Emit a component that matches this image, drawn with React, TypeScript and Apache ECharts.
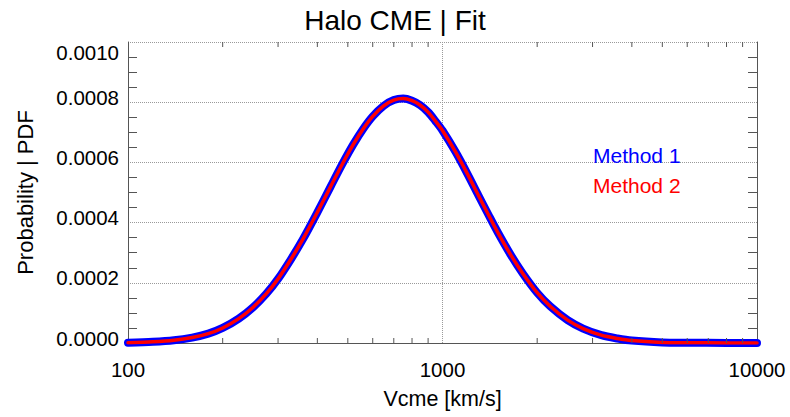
import React, { useEffect, useRef } from "react";
import * as echarts from "echarts";

const titleText = "Halo CME | Fit";
const xName = "Vcme [km/s]";
const yName = "Probability | PDF";
const seriesNames = ["Method 1", "Method 2"];
const seriesColors = ["#0000ff", "#ff0000"];

const vcme = [100, 120, 140, 160, 180, 200, 225, 250, 275, 300, 330, 360, 400, 440, 480, 520, 560, 600, 650, 700, 750, 800, 850, 900, 950, 1000, 1100, 1200, 1300, 1400, 1500, 1650, 1800, 2000, 2200, 2500, 2800, 3200, 3600, 4000, 5000, 6000, 8000, 10000];

const method1 = [0.000001, 0.000004, 0.000009, 0.000018, 0.000031, 0.00005, 0.000081, 0.000119, 0.000163, 0.000213, 0.000279, 0.000345, 0.000434, 0.000518, 0.000594, 0.000659, 0.000712, 0.000753, 0.000788, 0.000807, 0.000812, 0.000805, 0.00079, 0.000767, 0.000737, 0.000706, 0.000635, 0.000562, 0.000491, 0.000426, 0.000367, 0.000292, 0.000231, 0.000167, 0.000122, 0.000076, 0.000048, 0.000026, 0.000015, 0.000008, 0.000002, 0.000001, 0.0000002, 0.0000001];

const method2 = [0.000001, 0.000004, 0.000009, 0.000018, 0.000031, 0.00005, 0.000081, 0.000119, 0.000163, 0.000213, 0.000279, 0.000345, 0.000434, 0.000518, 0.000594, 0.000659, 0.000712, 0.000753, 0.000788, 0.000807, 0.000812, 0.000805, 0.00079, 0.000767, 0.000737, 0.000706, 0.000635, 0.000562, 0.000491, 0.000426, 0.000367, 0.000292, 0.000231, 0.000167, 0.000122, 0.000076, 0.000048, 0.000026, 0.000015, 0.000008, 0.000002, 0.000001, 0.0000002, 0.0000001];

const xMinorTicks = [200, 300, 400, 500, 600, 700, 800, 900, 2000, 3000, 4000, 5000, 6000, 7000, 8000, 9000];
const xMin = 100;
const xMax = 10000;
const yMin = 0;
const yMax = 0.001;
const yInterval = 0.0002;

const FONT = "'Liberation Sans', Arial, Helvetica, sans-serif";
const FRAME = "#555555";
const GRID = "#9a9a9a";
const X_TICK_LEN = 5;

export default function App() {
  const ref = useRef<HTMLDivElement>(null);

  useEffect(() => {
    document.body.style.margin = "0";
    const chart = echarts.init(ref.current!, null, { renderer: "svg" });
    const pairs = (ys: number[]) => vcme.map((x, i) => [x, ys[i]]);

    const frameLine = { show: true, lineStyle: { color: FRAME, width: 1 } };

    chart.setOption({
      animation: false,
      backgroundColor: "#ffffff",
      textStyle: { fontFamily: FONT },
      title: {
        text: titleText,
        left: "center",
        top: 1,
        textStyle: { fontFamily: FONT, fontSize: 28, fontWeight: "normal", color: "#000" },
      },
      legend: {
        orient: "vertical",
        left: 583,
        top: 140,
        itemWidth: 0,
        itemHeight: 0,
        itemGap: 9,
        selectedMode: false,
        textStyle: { fontFamily: FONT, fontSize: 21 },
        data: [
          { name: seriesNames[0], icon: "rect", itemStyle: { opacity: 0 }, textStyle: { color: seriesColors[0] } },
          { name: seriesNames[1], icon: "rect", itemStyle: { opacity: 0 }, textStyle: { color: seriesColors[1] } },
        ],
      },
      grid: { left: 128, right: 33, top: 42, bottom: 74, containLabel: false },
      xAxis: [
        {
          type: "log",
          logBase: 10,
          min: xMin,
          max: xMax,
          position: "bottom",
          name: xName,
          nameLocation: "middle",
          nameGap: 45,
          nameTextStyle: { fontFamily: FONT, fontSize: 21.5, color: "#000" },
          axisLine: frameLine,
          axisTick: { show: false },
          axisLabel: {
            show: true,
            margin: 16,
            fontFamily: FONT,
            fontSize: 20.5,
            color: "#000",
            formatter: (v: number) => String(Math.round(v)),
          },
          splitLine: { show: true, lineStyle: { color: GRID, type: "dotted", width: 1 } },
        },
        {
          type: "log",
          logBase: 10,
          min: xMin,
          max: xMax,
          position: "top",
          axisLine: frameLine,
          axisTick: { show: false },
          axisLabel: { show: false },
          splitLine: { show: false },
        },
      ],
      yAxis: [
        {
          type: "value",
          min: yMin,
          max: yMax,
          interval: yInterval,
          position: "left",
          name: yName,
          nameLocation: "middle",
          nameGap: 92,
          nameTextStyle: { fontFamily: FONT, fontSize: 22, color: "#000" },
          axisLine: frameLine,
          axisTick: { show: false, inside: true },
          minorTick: { show: true, splitNumber: 4, length: 9, lineStyle: { color: FRAME } },
          axisLabel: {
            margin: 9,
            fontFamily: FONT,
            fontSize: 20.5,
            color: "#000",
            verticalAlign: "bottom",
            lineHeight: 10,
            verticalAlignMaxLabel: "top",
            formatter: (v: number) => (v >= yMax ? "{mx|" + v.toFixed(4) + "}" : v.toFixed(4)),
            rich: {
              mx: { fontFamily: FONT, fontSize: 20.5, color: "#000", lineHeight: 20 },
            },
          },
          splitLine: { show: true, lineStyle: { color: GRID, type: "dotted", width: 1 } },
        },
        {
          type: "value",
          min: yMin,
          max: yMax,
          interval: yInterval,
          position: "right",
          axisLine: frameLine,
          axisTick: { show: false, inside: true },
          minorTick: { show: true, splitNumber: 4, length: 9, lineStyle: { color: FRAME } },
          axisLabel: { show: false },
          splitLine: { show: false },
        },
      ],
      series: [
        {
          name: "xMinorTicks",
          type: "custom",
          xAxisIndex: 0,
          yAxisIndex: 0,
          silent: true,
          clip: false,
          z: 5,
          data: xMinorTicks.map((v) => [v]),
          renderItem: (params: any, api: any) => {
            const v = api.value(0);
            const b = api.coord([v, yMin]);
            const t = api.coord([v, yMax]);
            const style = { stroke: FRAME, lineWidth: 1 };
            return {
              type: "group",
              children: [
                { type: "line", shape: { x1: b[0], y1: b[1], x2: b[0], y2: b[1] - X_TICK_LEN }, style },
                { type: "line", shape: { x1: t[0], y1: t[1], x2: t[0], y2: t[1] + X_TICK_LEN }, style },
              ],
            };
          },
        },
        {
          name: seriesNames[0],
          type: "line",
          xAxisIndex: 0,
          yAxisIndex: 0,
          data: pairs(method1),
          showSymbol: false,
          smooth: 0.3,
          color: seriesColors[0],
          lineStyle: { color: seriesColors[0], width: 8, cap: "round", join: "round" },
          z: 3,
        },
        {
          name: seriesNames[1],
          type: "line",
          xAxisIndex: 0,
          yAxisIndex: 0,
          data: pairs(method2),
          showSymbol: false,
          smooth: 0.3,
          color: seriesColors[1],
          lineStyle: { color: seriesColors[1], width: 3.5, cap: "round", join: "round" },
          z: 4,
        },
      ],
    });

    return () => chart.dispose();
  }, []);

  return (
    <div
      ref={ref}
      style={{ position: "fixed", left: 0, top: 0, width: 790, height: 417 }}
    />
  );
}
